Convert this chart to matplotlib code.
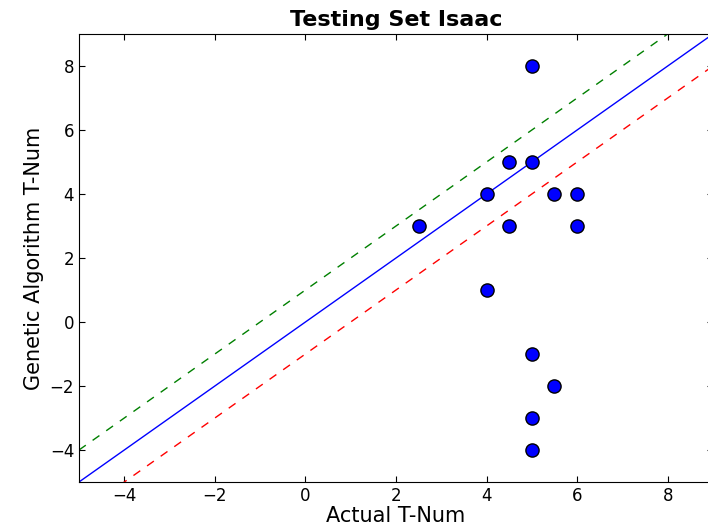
import numpy as np
import matplotlib
matplotlib.use('Agg')
import matplotlib.pyplot as plt

# Actual vs predicted T-Num values
actual = [5, 4.5, 5, 4, 5.5, 6, 2.5, 4.5, 6, 4, 5, 5.5, 5, 5]
predicted = [8, 5, 5, 4, 4, 4, 3, 3, 3, 1, -1, -2, -3, -4]

# reference lines y = x + offset
line_offsets = [0, 1, -1]
line_colors = ['blue', 'green', 'red']
line_styles = ['-', '--', '--']

xlim = (-5, 9)
ylim = (-5, 9)

fig = plt.figure(figsize=(7.08, 5.25), dpi=100)
ax = fig.add_axes([79 / 708, 43 / 525, 634 / 708, 448 / 525])

xs = np.array(xlim, dtype=float)
for off, c, ls in zip(line_offsets, line_colors, line_styles):
    ln, = ax.plot(xs, xs + off, color=c, linestyle=ls, linewidth=1)
    if ls == '--':
        ln.set_dashes((6, 6))

ax.plot(actual, predicted, 'o', color='blue', markeredgecolor='black',
        markersize=9.5, linestyle='none')

ax.set_xlim(*xlim)
ax.set_ylim(*ylim)
ax.set_xticks([-4, -2, 0, 2, 4, 6, 8])
ax.set_yticks([-4, -2, 0, 2, 4, 6, 8])
ax.tick_params(direction='in', top=True, right=True, labelsize=12, length=4)

ax.set_title('Testing Set Isaac', fontsize=16, fontweight='bold')
ax.set_xlabel('Actual T-Num', fontsize=15, labelpad=1)
ax.set_ylabel('Genetic Algorithm T-Num', fontsize=15)

fig.savefig('out.png', dpi=100)
